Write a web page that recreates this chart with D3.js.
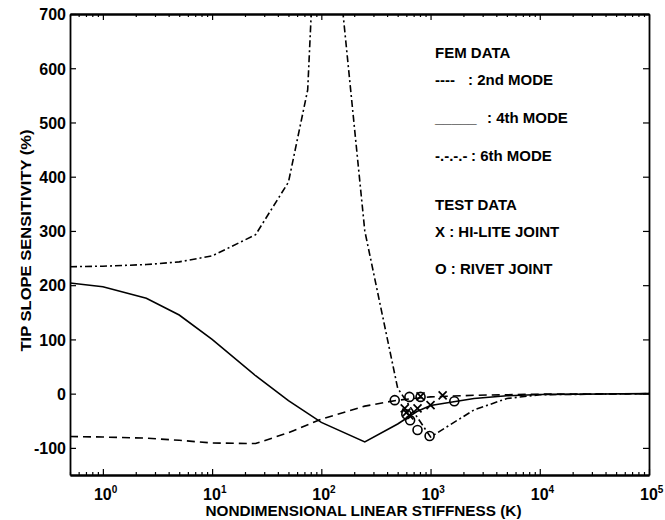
<!DOCTYPE html>
<html>
<head>
<meta charset="utf-8">
<script src="https://cdn.jsdelivr.net/npm/d3@7"></script>
<style>
  html, body { margin: 0; padding: 0; background: #fff; }
  svg { display: block; }
  text { font-family: "Liberation Sans", Arial, Helvetica, sans-serif; font-weight: bold; fill: #000; }
</style>
</head>
<body>
<svg id="chart" width="665" height="520"></svg>
<script>
// FEM sensitivity curves: stiffness K and tip slope sensitivity (%)
const kMode2 = [0.5, 1, 2.5, 5, 10, 25, 50, 100, 250, 500, 1000, 2500, 5000, 10000, 100000];
const mode2  = [-79, -80, -82, -86, -91, -92, -72, -47, -23, -12, -6, -3, -2, -1, 0];

const kMode4 = [0.5, 1, 2.5, 5, 10, 25, 50, 100, 250, 500, 750, 1000, 2500, 5000, 10000, 100000];
const mode4  = [204, 197, 176, 145, 100, 33, -13, -53, -89, -56, -33, -22, -9, -4, -1.5, 0];

const kMode6 = [0.5, 1, 2.5, 5, 10, 25, 50, 75, 100, 250, 500, 1000, 2500, 5000, 10000, 100000];
const mode6  = [234, 235, 238, 243, 254, 293, 390, 560, 1100, 300, 10, -80, -30, -9, -2, 0];

// Test data
const hiliteK = [580, 640, 760, 1000, 1290, 600, 810];
const hiliteV = [-27, -40, -27, -21, -3, -35, -5];
const rivetK  = [470, 640, 810, 1650, 650, 760, 980, 600];
const rivetV  = [-12, -6, -6, -14, -49, -67, -78, -38];

// Axis ticks
const xDecades = [1, 10, 100, 1000, 10000, 100000];
const yTicks = [-100, 0, 100, 200, 300, 400, 500, 600, 700];

// Legend rows: line-style sample and its label
const legendRows = [
  { sample: "", label: "FEM DATA", y: 58 },
  { sample: "----", label: ": 2nd MODE", y: 85, lx: 468 },
  { sample: "_____", label: ": 4th MODE", y: 123, lx: 487 },
  { sample: "-.-.-.-", label: ": 6th MODE", y: 161, lx: 471 },
  { sample: "", label: "TEST DATA", y: 210 },
  { sample: "", label: "X : HI-LITE JOINT", y: 237 },
  { sample: "", label: "O : RIVET JOINT", y: 274 }
];

const svg = d3.select("#chart");
const L = 70, R = 649, T = 14, B = 475;

const x = d3.scaleLog().domain([0.5, 1e5]).range([L, R]);
const y = d3.scaleLinear().domain([-150, 700]).range([B, T]);

svg.append("defs").append("clipPath").attr("id", "plot-clip")
  .append("rect").attr("x", L).attr("y", T).attr("width", R - L).attr("height", B - T);

// minor ticks at 2..9 of each decade
const minorTicks = [];
for (let e = -1; e < 5; e++) {
  for (let m = 2; m <= 9; m++) {
    const v = m * Math.pow(10, e);
    if (v >= 0.5 && v <= 1e5) minorTicks.push(v);
  }
}

function styleAxis(g) {
  g.attr("font-family", null).attr("font-size", null);
  g.selectAll("path.domain").attr("stroke", "#000").attr("stroke-width", 1.8);
  g.selectAll(".tick line").attr("stroke", "#000").attr("stroke-width", 1.2);
}

// bottom and top axes: minor and major inward ticks
[[d3.axisBottom, B], [d3.axisTop, T]].forEach(([axisFn, pos]) => {
  svg.append("g").attr("transform", `translate(0,${pos})`)
    .call(axisFn(x).tickValues(minorTicks).tickSize(-3).tickSizeOuter(0).tickFormat(""))
    .call(styleAxis);
  svg.append("g").attr("transform", `translate(0,${pos})`)
    .call(axisFn(x).tickValues(xDecades).tickSize(-6).tickSizeOuter(0).tickFormat(""))
    .call(styleAxis);
});

// left axis with labels, right axis ticks only
const leftAxis = svg.append("g").attr("transform", `translate(${L},0)`)
  .call(d3.axisLeft(y).tickValues(yTicks).tickSize(-6).tickSizeOuter(0).tickPadding(4)
    .tickFormat(d => String(d)))
  .call(styleAxis);
leftAxis.selectAll(".tick text").attr("font-size", 16).attr("dy", "0.36em");

svg.append("g").attr("transform", `translate(${R},0)`)
  .call(d3.axisRight(y).tickValues(yTicks).tickSize(-6).tickSizeOuter(0).tickFormat(""))
  .call(styleAxis);

// decade labels with superscript exponents
const xLab = svg.append("g").selectAll("text").data(xDecades).join("text")
  .attr("x", d => x(d) - 9)
  .attr("y", 500)
  .attr("font-size", 16);
xLab.append("tspan").text("10");
xLab.append("tspan").attr("font-size", 10).attr("dy", -7).text(d => Math.round(Math.log10(d)));

// axis titles
svg.append("text")
  .attr("x", (L + R) / 2 + 4).attr("y", 516)
  .attr("text-anchor", "middle").attr("font-size", 15)
  .attr("textLength", 316).attr("lengthAdjust", "spacingAndGlyphs")
  .text("NONDIMENSIONAL LINEAR STIFFNESS (K)");
svg.append("text")
  .attr("transform", `translate(31,${(T + B) / 2 - 4}) rotate(-90)`)
  .attr("text-anchor", "middle").attr("font-size", 15)
  .attr("textLength", 222).attr("lengthAdjust", "spacingAndGlyphs")
  .text("TIP SLOPE SENSITIVITY (%)");

// curves
const plot = svg.append("g").attr("clip-path", "url(#plot-clip)");
const line = d3.line().x(d => x(d[0])).y(d => y(d[1]));

const curves = [
  { k: kMode2, v: mode2, dash: "8,5" },
  { k: kMode4, v: mode4, dash: null },
  { k: kMode6, v: mode6, dash: "7,3,2,3" }
];
plot.selectAll("path.curve").data(curves).join("path")
  .attr("class", "curve")
  .attr("d", c => line(c.k.map((k, i) => [k, c.v[i]])))
  .attr("fill", "none").attr("stroke", "#000").attr("stroke-width", 1.6)
  .attr("stroke-dasharray", c => c.dash);

// test markers
const hilite = hiliteK.map((k, i) => [k, hiliteV[i]]);
const rivet = rivetK.map((k, i) => [k, rivetV[i]]);
const s = 4;
plot.selectAll("path.xmark").data(hilite).join("path")
  .attr("class", "xmark")
  .attr("d", d => {
    const cx = x(d[0]), cy = y(d[1]);
    return `M${cx - s},${cy - s}L${cx + s},${cy + s}M${cx - s},${cy + s}L${cx + s},${cy - s}`;
  })
  .attr("stroke", "#000").attr("stroke-width", 1.7).attr("fill", "none");
plot.selectAll("circle.omark").data(rivet).join("circle")
  .attr("class", "omark")
  .attr("cx", d => x(d[0])).attr("cy", d => y(d[1])).attr("r", 4.5)
  .attr("stroke", "#000").attr("stroke-width", 1.6).attr("fill", "none");

// legend
const lg = svg.append("g");
lg.selectAll("text.sample").data(legendRows.filter(r => r.sample)).join("text")
  .attr("class", "sample")
  .attr("x", 435).attr("y", d => d.y).attr("font-size", 15)
  .text(d => d.sample);
lg.selectAll("text.label").data(legendRows).join("text")
  .attr("class", "label")
  .attr("x", d => d.lx || 435).attr("y", d => d.y).attr("font-size", 15)
  .text(d => d.label);
</script>
</body>
</html>
